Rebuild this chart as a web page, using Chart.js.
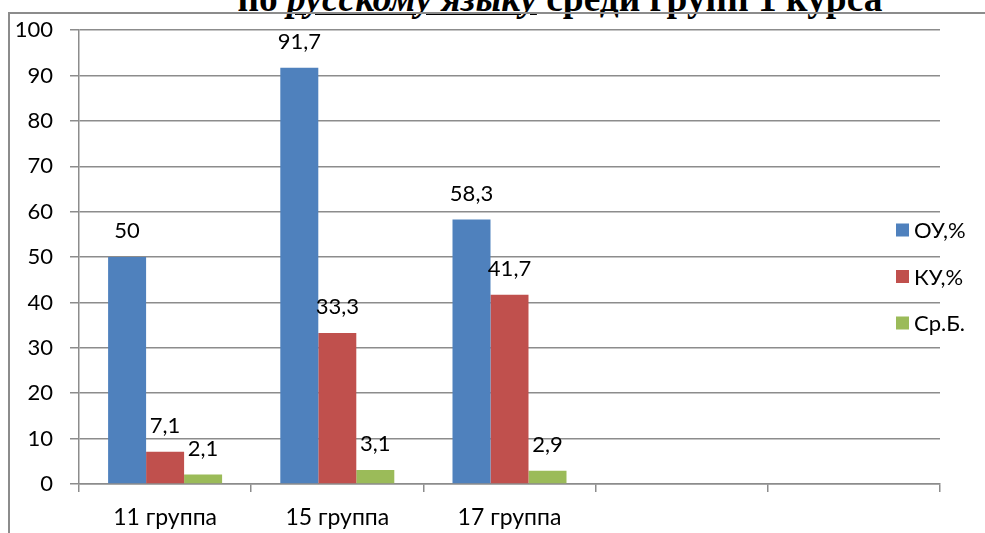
<!DOCTYPE html>
<html>
<head>
<meta charset="utf-8">
<script src="https://cdn.jsdelivr.net/npm/chart.js@4/dist/chart.umd.min.js"></script>
<style>
    html, body { margin: 0; padding: 0; background: #fff; }
    #wrap { position: relative; width: 985px; height: 533px; overflow: hidden; }
    #frame {
        position: absolute; left: 8px; top: 12px; right: -4px; bottom: -4px;
        border-left: 2px solid #8c8c8c; border-top: 2px solid #8c8c8c;
    }
    #title {
        position: absolute; white-space: nowrap; line-height: 1;
        font-family: "Liberation Serif", "Times New Roman", serif; font-weight: bold; color: #000;
    }
    #title u { font-style: italic; text-decoration-thickness: 3px; text-underline-offset: 1px; }
    canvas { position: absolute; left: 0; top: 0; }
</style>
</head>
<body>
<div id="wrap">
    <div id="title">по <u>русскому языку</u> среди групп 1 курса</div>
    <div id="frame"></div>
    <canvas id="chart" width="985" height="533"></canvas>
</div>
<script>
// ========== DATA ==========
const categories = ['11 группа', '15 группа', '17 группа', '', ''];
const seriesNames = ['ОУ,%', 'КУ,%', 'Ср.Б.'];
const ouValues = [50, 91.7, 58.3, null, null];
const kuValues = [7.1, 33.3, 41.7, null, null];
const srbValues = [2.1, 3.1, 2.9, null, null];
const yTicks = [0, 10, 20, 30, 40, 50, 60, 70, 80, 90, 100];

const colors = ['#4F81BD', '#C0504D', '#9BBB59'];
const fontFamily = 'Lato, "Open Sans", sans-serif';
const labelFont = '22px ' + fontFamily;

// ========== TITLE ==========
(function placeTitle() {
    const el = document.getElementById('title');
    const targetWidth = 645;
    let size = 36;
    el.style.fontSize = size + 'px';
    size = size * targetWidth / el.getBoundingClientRect().width;
    el.style.fontSize = size.toFixed(2) + 'px';
    // line-height 1: baseline sits ~0.8375em below the box top
    const baseline = 11;
    el.style.top = (baseline - size * 0.8375).toFixed(1) + 'px';
    el.style.left = (560 - el.getBoundingClientRect().width / 2).toFixed(1) + 'px';
})();

// ========== PLUGINS ==========
const valueLabels = {
    id: 'valueLabels',
    afterDatasetsDraw(chart) {
        const ctx = chart.ctx;
        ctx.save();
        ctx.font = labelFont;
        ctx.fillStyle = '#000';
        ctx.textAlign = 'center';
        ctx.textBaseline = 'middle';
        chart.data.datasets.forEach((ds, i) => {
            chart.getDatasetMeta(i).data.forEach((bar, j) => {
                const v = ds.data[j];
                if (v === null || v === undefined) return;
                ctx.fillText(String(v).replace('.', ','), bar.x, bar.y - 26);
            });
        });
        ctx.restore();
    }
};

const sideLegend = {
    id: 'sideLegend',
    afterDraw(chart) {
        const ctx = chart.ctx;
        ctx.save();
        ctx.font = labelFont;
        ctx.textBaseline = 'middle';
        ctx.textAlign = 'left';
        chart.data.datasets.forEach((ds, i) => {
            const cy = 230 + i * 46.5;
            ctx.fillStyle = ds.backgroundColor;
            ctx.fillRect(896, cy - 6.5, 13, 13);
            ctx.fillStyle = '#000';
            ctx.fillText(ds.label, 914, cy + 1);
        });
        ctx.restore();
    }
};

// ========== CHART ==========
const gridColor = '#8c8c8c';

new Chart(document.getElementById('chart').getContext('2d'), {
    type: 'bar',
    data: {
        labels: categories,
        datasets: [
            { label: seriesNames[0], data: ouValues, backgroundColor: colors[0] },
            { label: seriesNames[1], data: kuValues, backgroundColor: colors[1] },
            { label: seriesNames[2], data: srbValues, backgroundColor: colors[2] }
        ]
    },
    options: {
        responsive: false,
        animation: false,
        events: [],
        layout: { padding: { top: 29, right: 45, bottom: 0, left: 0 } },
        datasets: { bar: { categoryPercentage: 0.662, barPercentage: 1.0 } },
        plugins: { legend: { display: false }, tooltip: { enabled: false }, title: { display: false } },
        scales: {
            x: {
                offset: true,
                afterFit: (scale) => { scale.height = 49; },
                grid: {
                    offset: true, drawOnChartArea: false, drawTicks: true,
                    tickLength: 8, color: gridColor, lineWidth: 1.5
                },
                border: { display: true, color: gridColor, width: 1.5 },
                ticks: { color: '#000', font: { family: fontFamily, size: 23 }, padding: 12, maxRotation: 0 }
            },
            y: {
                min: 0,
                max: 100,
                afterFit: (scale) => { scale.width = 79; },
                afterBuildTicks: (scale) => { scale.ticks = yTicks.map(v => ({ value: v })); },
                grid: { color: gridColor, lineWidth: 1.5, tickLength: 9, drawTicks: true },
                border: { display: true, color: gridColor, width: 1.5 },
                ticks: { color: '#000', font: { family: fontFamily, size: 22 }, padding: 17 }
            }
        }
    },
    plugins: [valueLabels, sideLegend]
});
</script>
</body>
</html>
